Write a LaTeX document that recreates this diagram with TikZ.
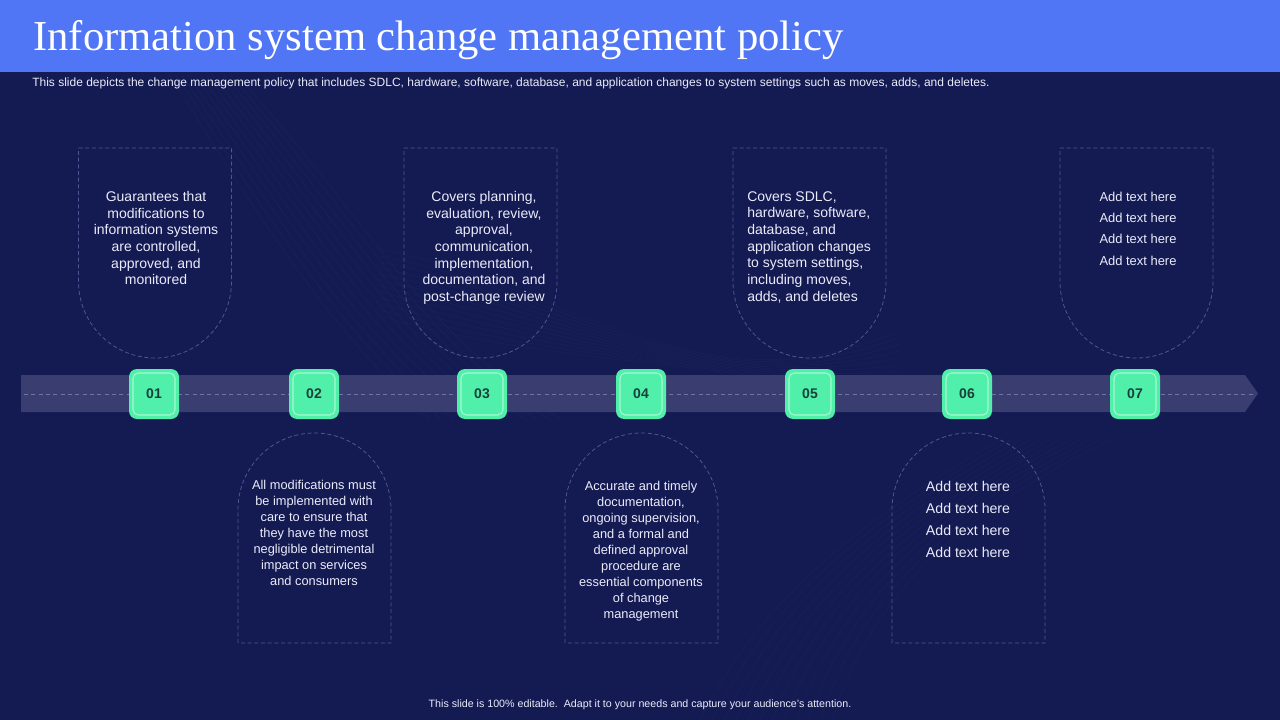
\documentclass[tikz,border=0pt]{standalone}
\usepackage{fontspec}
\setmainfont{Liberation Sans}
\newfontfamily\titlefont{Liberation Serif}
\definecolor{bg}{RGB}{20,26,82}
\definecolor{hdr}{RGB}{80,118,245}
\definecolor{band}{RGB}{58,61,112}
\definecolor{mint}{RGB}{80,240,170}
\definecolor{dashc}{RGB}{78,86,150}
\definecolor{txt}{RGB}{234,236,250}
\definecolor{numc}{RGB}{26,64,60}
\definecolor{wave}{RGB}{120,130,200}
\definecolor{bandline}{RGB}{110,115,170}
\begin{document}
\begin{tikzpicture}[x=0.75pt,y=-0.75pt,
  boxline/.style={draw=dashc, dash pattern=on 3pt off 2pt, line width=0.6pt},
  numbox/.style={fill=mint, rounded corners=6pt,
    minimum width=37.5pt, minimum height=37.5pt, inner sep=0pt, text=numc,
    font=\fontsize{10.5}{12}\selectfont\bfseries,
    path picture={\draw[white!50!mint, line width=0.8pt, rounded corners=4pt]
      ([shift={(3pt,-3pt)}]path picture bounding box.north west) rectangle
      ([shift={(-3pt,3pt)}]path picture bounding box.south east);}},
  body/.style={text=txt, inner sep=0pt, align=center, anchor=north,
    font=\fontsize{10.5}{12.5}\selectfont},
  bodysm/.style={body, font=\fontsize{9.6}{12}\selectfont},
  addtxt/.style={body, font=\fontsize{10.6}{16.5}\selectfont}]
\useasboundingbox (0,0) rectangle (1280,720);
\fill[bg] (0,0) rectangle (1280,720);
% faint background waves
\foreach \i in {0,...,11}{
  \draw[wave, opacity=0.07, line width=0.4pt]
    (170+\i*6,75) .. controls (260+\i*10,220) and (330+\i*8,330) .. (430+\i*12,420);
  \draw[wave, opacity=0.06, line width=0.4pt]
    (380,250+\i*6) .. controls (560,280+\i*8) and (700,420-\i*6) .. (900,330+\i*7);
  \draw[wave, opacity=0.06, line width=0.4pt]
    (700+\i*12,720) .. controls (760+\i*10,600) and (860+\i*8,520) .. (1000+\i*10,440);
}
\fill[hdr] (0,0) rectangle (1280,72);
\node[anchor=base west, text=white, inner sep=0pt,
  font=\titlefont\fontsize{32}{36}\selectfont] (title) at (33,51)
  {Information system change management policy};
\node[anchor=base west, text=txt, inner sep=0pt] (subtitle) at (32,87)
  {\resizebox{718pt}{!}{\fontsize{8}{9}\selectfont This slide depicts the change management policy that includes SDLC, hardware, software, database, and application changes to system settings such as moves, adds, and deletes.}};
% timeline band
\fill[band] (21,375) -- (1245,375) -- (1258,393.5) -- (1245,412) -- (21,412) -- cycle;
\coordinate (bandL) at (24,394);
\coordinate (bandR) at (1253,394);
\draw[bandline, dash pattern=on 3pt off 2.5pt, line width=0.5pt] (bandL) -- (bandR);
% top boxes
\foreach \cx in {155,480.5,809.5,1136.5}{
  \draw[boxline] (\cx-76.5,148) -- (\cx+76.5,148) -- (\cx+76.5,281.5)
    arc[start angle=0, end angle=180, radius=76.5] -- cycle;
}
% bottom boxes
\foreach \cx in {314.5,641.5,968.5}{
  \draw[boxline] (\cx-76.5,643) -- (\cx-76.5,509.5)
    arc[start angle=180, end angle=360, radius=76.5] -- (\cx+76.5,643) -- cycle;
}
% number squares
\node[numbox] (n1) at (154,394) {01};
\node[numbox] (n2) at (314,394) {02};
\node[numbox] (n3) at (482,394) {03};
\node[numbox] (n4) at (641,394) {04};
\node[numbox] (n5) at (810,394) {05};
\node[numbox] (n6) at (967,394) {06};
\node[numbox] (n7) at (1135,394) {07};
% texts
\node[body] (t1) at (156,191) {Guarantees that\\modifications to\\information systems\\are controlled,\\approved, and\\monitored};
\node[body] (t3) at (484,191) {Covers planning,\\evaluation, review,\\approval,\\communication,\\implementation,\\documentation, and\\post-change review};
\node[body, align=left, anchor=north west] (t5) at (747,191) {Covers SDLC,\\hardware, software,\\database, and\\application changes\\to system settings,\\including moves,\\adds, and deletes};
\node[body, font=\fontsize{9.7}{16}\selectfont] (t7) at (1138,191.5) {Add text here\\Add text here\\Add text here\\Add text here};
\node[bodysm] (t2) at (314,480) {All modifications must\\be implemented with\\care to ensure that\\they have the most\\negligible detrimental\\impact on services\\and consumers};
\node[bodysm] (t4) at (641,481) {Accurate and timely\\documentation,\\ongoing supervision,\\and a formal and\\defined approval\\procedure are\\essential components\\of change\\management};
\node[addtxt] (t6) at (968,480.5) {Add text here\\Add text here\\Add text here\\Add text here};
% footer
\node[anchor=base, text=txt, inner sep=0pt, font=\fontsize{8}{9}\selectfont] (footer) at (640,707.5)
  {This slide is 100\% editable.\ \ Adapt it to your needs and capture your audience's attention.};
\end{tikzpicture}
\end{document}
